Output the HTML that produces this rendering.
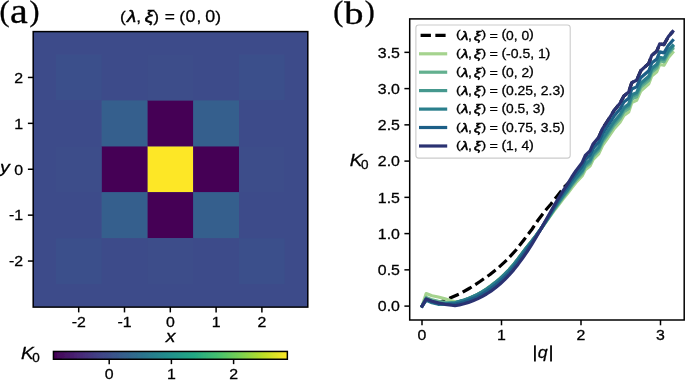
<!DOCTYPE html>
<html><head><meta charset="utf-8"><style>
html,body{margin:0;padding:0;background:#fff;}
svg{display:block;will-change:transform;}
text{font-family:"Liberation Sans",sans-serif;fill:#000;stroke:#000;stroke-width:0.28px;}
.it{font-style:italic;}
.bi,.bl{font-style:italic;stroke-width:0.58px;}
.pan{font-family:"Liberation Serif",serif;stroke-width:0.35px;}
</style></head><body>
<svg width="685" height="380" viewBox="0 0 685 380">
<filter id="soft" x="0" y="0" width="685" height="380" filterUnits="userSpaceOnUse"><feGaussianBlur stdDeviation="0.38"/></filter>
<rect width="685" height="380" fill="#fff"/>
<g filter="url(#soft)">
<rect width="685" height="380" fill="#fff"/>
<rect x="33.2" y="31.6" width="274.6" height="275.5" fill="#3e4c8a"/>
<rect x="147.40" y="146.30" width="45.80" height="45.90" fill="#fde725"/>
<rect x="193.20" y="146.30" width="45.80" height="45.90" fill="#440154"/>
<rect x="101.60" y="146.30" width="45.80" height="45.90" fill="#440154"/>
<rect x="147.40" y="100.40" width="45.80" height="45.90" fill="#440154"/>
<rect x="147.40" y="192.20" width="45.80" height="45.90" fill="#440154"/>
<rect x="193.20" y="100.40" width="45.80" height="45.90" fill="#355e8d"/>
<rect x="101.60" y="100.40" width="45.80" height="45.90" fill="#355e8d"/>
<rect x="193.20" y="192.20" width="45.80" height="45.90" fill="#355e8d"/>
<rect x="101.60" y="192.20" width="45.80" height="45.90" fill="#355e8d"/>
<rect x="239.00" y="54.50" width="45.80" height="45.90" fill="#3b4f8b"/>
<rect x="55.80" y="54.50" width="45.80" height="45.90" fill="#3b4f8b"/>
<rect x="239.00" y="238.10" width="45.80" height="45.90" fill="#3b4f8b"/>
<rect x="55.80" y="238.10" width="45.80" height="45.90" fill="#3b4f8b"/>
<rect x="147.40" y="54.50" width="45.80" height="45.90" fill="#3d4d8a"/>
<rect x="147.40" y="238.10" width="45.80" height="45.90" fill="#3d4d8a"/>
<rect x="239.00" y="146.30" width="45.80" height="45.90" fill="#3d4d8a"/>
<rect x="55.80" y="146.30" width="45.80" height="45.90" fill="#3d4d8a"/>
<rect x="33.2" y="31.6" width="274.60" height="275.50" fill="none" stroke="#000" stroke-width="1.5"/>
<line x1="78.70" y1="307.1" x2="78.70" y2="312.40000000000003" stroke="#000" stroke-width="1.5"/>
<line x1="33.2" y1="261.05" x2="27.900000000000002" y2="261.05" stroke="#000" stroke-width="1.5"/>
<text transform="translate(78.70,327.30) scale(1.127,1)" text-anchor="middle" font-size="14.1">-2</text>
<text transform="translate(23.20,266.35) scale(1.127,1)" text-anchor="end" font-size="14.1">-2</text>
<line x1="124.50" y1="307.1" x2="124.50" y2="312.40000000000003" stroke="#000" stroke-width="1.5"/>
<line x1="33.2" y1="215.15" x2="27.900000000000002" y2="215.15" stroke="#000" stroke-width="1.5"/>
<text transform="translate(124.50,327.30) scale(1.127,1)" text-anchor="middle" font-size="14.1">-1</text>
<text transform="translate(23.20,220.45) scale(1.127,1)" text-anchor="end" font-size="14.1">-1</text>
<line x1="170.30" y1="307.1" x2="170.30" y2="312.40000000000003" stroke="#000" stroke-width="1.5"/>
<line x1="33.2" y1="169.25" x2="27.900000000000002" y2="169.25" stroke="#000" stroke-width="1.5"/>
<text transform="translate(170.30,327.30) scale(1.127,1)" text-anchor="middle" font-size="14.1">0</text>
<text transform="translate(23.20,174.55) scale(1.127,1)" text-anchor="end" font-size="14.1">0</text>
<line x1="216.10" y1="307.1" x2="216.10" y2="312.40000000000003" stroke="#000" stroke-width="1.5"/>
<line x1="33.2" y1="123.35" x2="27.900000000000002" y2="123.35" stroke="#000" stroke-width="1.5"/>
<text transform="translate(216.10,327.30) scale(1.127,1)" text-anchor="middle" font-size="14.1">1</text>
<text transform="translate(23.20,128.65) scale(1.127,1)" text-anchor="end" font-size="14.1">1</text>
<line x1="261.90" y1="307.1" x2="261.90" y2="312.40000000000003" stroke="#000" stroke-width="1.5"/>
<line x1="33.2" y1="77.45" x2="27.900000000000002" y2="77.45" stroke="#000" stroke-width="1.5"/>
<text transform="translate(261.90,327.30) scale(1.127,1)" text-anchor="middle" font-size="14.1">2</text>
<text transform="translate(23.20,82.75) scale(1.127,1)" text-anchor="end" font-size="14.1">2</text>
<text transform="translate(170.60,341.50) scale(1.127,1)" text-anchor="middle" font-size="17.3" class="it">x</text>
<text transform="translate(5.00,172.60) scale(1.127,1)" text-anchor="middle" font-size="17.3" class="it">y</text>
<text transform="translate(122.85,21.80) scale(1.127,1)" text-anchor="middle" font-size="15.4">(</text>
<text transform="translate(131.60,22.30) scale(1.080,1)" text-anchor="middle" font-size="17.248" class="bl">λ</text>
<text transform="translate(138.70,22.30) scale(1.127,1)" text-anchor="middle" font-size="15.4">,</text>
<text transform="translate(149.10,22.30) scale(1.200,1)" text-anchor="middle" font-size="16.17" class="bi">ξ</text>
<text transform="translate(156.15,21.80) scale(1.127,1)" text-anchor="middle" font-size="15.4">)</text>
<text transform="translate(169.75,22.30) scale(1.127,1)" text-anchor="middle" font-size="15.4">=</text>
<text transform="translate(182.25,21.80) scale(1.127,1)" text-anchor="middle" font-size="15.4">(</text>
<text transform="translate(190.40,22.30) scale(1.050,1)" text-anchor="middle" font-size="17.0">0</text>
<text transform="translate(198.85,22.30) scale(1.127,1)" text-anchor="middle" font-size="15.4">,</text>
<text transform="translate(210.15,22.30) scale(1.050,1)" text-anchor="middle" font-size="17.0">0</text>
<text transform="translate(218.20,21.80) scale(1.127,1)" text-anchor="middle" font-size="15.4">)</text>
<text class="pan" x="-0.6" y="20.9" font-size="30">(</text><text class="pan" transform="translate(10.0,23.0) scale(1.11,1)" font-size="36">a</text><text class="pan" x="29.5" y="20.9" font-size="30">)</text>
<text class="pan" x="333.3" y="21.2" font-size="30">(</text><text class="pan" transform="translate(344.2,23.7) scale(1.22,1)" font-size="31.5">b</text><text class="pan" x="364.8" y="21.2" font-size="30">)</text>
<defs><linearGradient id="vir" x1="0" x2="1" y1="0" y2="0">
<stop offset="0.00" stop-color="#440154"/>
<stop offset="0.10" stop-color="#482475"/>
<stop offset="0.20" stop-color="#414487"/>
<stop offset="0.30" stop-color="#355f8d"/>
<stop offset="0.40" stop-color="#2a788e"/>
<stop offset="0.50" stop-color="#21918c"/>
<stop offset="0.60" stop-color="#22a884"/>
<stop offset="0.70" stop-color="#44bf70"/>
<stop offset="0.80" stop-color="#7ad151"/>
<stop offset="0.90" stop-color="#bddf26"/>
<stop offset="1.00" stop-color="#fde725"/>
</linearGradient></defs>
<rect x="53.45" y="351.45" width="233.90" height="7.80" fill="url(#vir)" stroke="#000" stroke-width="1.5"/>
<line x1="109.2" y1="359.25" x2="109.2" y2="364.15" stroke="#000" stroke-width="1.5"/>
<text transform="translate(109.20,379.00) scale(1.127,1)" text-anchor="middle" font-size="14.1">0</text>
<line x1="171.4" y1="359.25" x2="171.4" y2="364.15" stroke="#000" stroke-width="1.5"/>
<text transform="translate(171.40,379.00) scale(1.127,1)" text-anchor="middle" font-size="14.1">1</text>
<line x1="233.6" y1="359.25" x2="233.6" y2="364.15" stroke="#000" stroke-width="1.5"/>
<text transform="translate(233.60,379.00) scale(1.127,1)" text-anchor="middle" font-size="14.1">2</text>
<text transform="translate(27.50,359.20) scale(1.127,1)" text-anchor="middle" font-size="17.0" class="it">K</text>
<text transform="translate(36.00,361.90) scale(1.127,1)" text-anchor="middle" font-size="12.0">0</text>
<clipPath id="cp"><rect x="409.7" y="18.9" width="274.50" height="301.10"/></clipPath>
<g clip-path="url(#cp)" fill="none" stroke-linejoin="round" stroke-linecap="butt">
<polyline points="421.2,306.2 425.8,299.6 432.0,301.3 438.3,302.9 444.0,300.6 449.5,298.3 460.0,293.8 470.0,288.0 480.0,281.5 490.0,274.5 498.7,267.4 507.4,259.5 516.0,250.0 524.0,239.7 531.8,229.5 537.8,220.5 545.5,210.3 551.0,204.0 557.3,196.0 564.0,187.4 568.0,183.5 571.8,179.7 575.8,173.9 582.1,166.0 585.3,159.1 590.0,154.6 593.2,147.6 598.7,137.4 602.6,128.5 606.5,122.5 611.3,115.0 613.7,111.1 620.0,103.2 623.9,96.1 628.7,92.1 631.8,82.6 636.6,80.3 640.7,70.8 648.8,63.4 651.7,55.5 656.8,51.1 659.7,43.9 664.0,44.6 668.4,36.6 672.7,31.6" stroke="#000" stroke-width="3.2" stroke-dasharray="10.3 4.45" stroke-dashoffset="11.37"/>
<polyline points="422.1,306.0 426.2,293.6 432.0,295.7 438.3,297.0 445.0,298.8 451.5,300.7 455.0,301.8 459.5,301.6 464.0,300.2 468.5,298.5 473.0,296.6 477.5,294.4 482.0,291.8 486.5,288.8 491.0,285.6 495.5,282.1 500.0,278.3 504.5,274.1 509.0,269.5 513.5,264.4 518.0,258.7 522.5,252.6 527.0,246.7 531.5,241.3 536.0,235.5 540.5,229.4 545.0,223.3 549.5,217.1 554.0,210.9 558.5,205.0 563.0,199.1 567.5,193.6 571.8,187.7 575.8,182.7 582.1,176.0 585.3,169.8 590.0,166.1 593.2,159.4 598.7,153.8 602.6,145.3 606.5,139.8 611.3,132.9 613.7,129.3 620.0,122.1 623.9,115.5 628.7,112.0 631.8,102.6 636.6,100.4 640.7,91.0 648.8,83.8 651.7,76.0 656.8,71.7 659.7,64.5 664.0,65.3 668.4,57.4 672.7,52.5" stroke="#a5d38e" stroke-width="3.2" stroke-linecap="square"/>
<polyline points="422.1,306.1 426.2,297.4 432.0,299.9 438.3,301.4 445.0,302.4 451.5,302.6 455.0,302.6 459.5,301.6 464.0,300.3 468.5,298.7 473.0,296.8 477.5,294.7 482.0,292.1 486.5,289.3 491.0,286.2 495.5,282.7 500.0,278.9 504.5,274.7 509.0,270.1 513.5,265.0 518.0,259.3 522.5,253.2 527.0,247.3 531.5,241.7 536.0,235.7 540.5,229.5 545.0,223.0 549.5,216.5 554.0,209.9 558.5,203.7 563.0,197.5 567.5,191.8 571.8,185.6 575.8,180.5 582.1,173.5 585.3,167.0 590.0,163.2 593.2,156.5 598.7,150.7 602.6,142.2 606.5,136.6 611.3,129.6 613.7,125.9 620.0,118.6 623.9,111.9 628.7,108.4 631.8,99.0 636.6,96.8 640.7,87.4 648.8,80.2 651.7,72.3 656.8,68.1 659.7,60.9 664.0,61.7 668.4,53.8 672.7,48.9" stroke="#63b08f" stroke-width="3.2" stroke-linecap="square"/>
<polyline points="422.1,306.1 426.2,298.9 432.0,301.3 438.3,302.9 445.0,303.4 451.5,303.1 455.0,302.8 459.5,301.6 464.0,300.3 468.5,298.7 473.0,296.8 477.5,294.7 482.0,292.1 486.5,289.3 491.0,286.2 495.5,282.7 500.0,278.9 504.5,274.7 509.0,270.1 513.5,265.0 518.0,259.3 522.5,253.2 527.0,247.3 531.5,241.7 536.0,235.7 540.5,229.5 545.0,222.8 549.5,216.0 554.0,209.2 558.5,202.7 563.0,196.4 567.5,190.5 571.8,184.3 575.8,179.0 582.1,171.8 585.3,165.3 590.0,161.4 593.2,154.6 598.7,148.7 602.6,140.1 606.5,134.5 611.3,127.3 613.7,123.6 620.0,116.3 623.9,109.5 628.7,105.9 631.8,96.5 636.6,94.4 640.7,85.0 648.8,77.9 651.7,70.1 656.8,65.9 659.7,58.9 664.0,59.7 668.4,51.9 672.7,47.0" stroke="#45988e" stroke-width="3.2" stroke-linecap="square"/>
<polyline points="422.1,306.1 426.2,300.3 432.0,302.8 438.3,304.3 445.0,304.2 451.5,303.2 455.0,302.8 459.5,301.4 464.0,300.1 468.5,298.4 473.0,296.5 477.5,294.4 482.0,291.8 486.5,289.0 491.0,285.8 495.5,282.4 500.0,278.6 504.5,274.4 509.0,269.8 513.5,264.7 518.0,259.0 522.5,252.9 527.0,246.9 531.5,241.5 536.0,235.6 540.5,229.4 545.0,222.7 549.5,215.7 554.0,208.7 558.5,202.0 563.0,195.6 567.5,189.6 571.8,183.2 575.8,177.9 582.1,170.5 585.3,164.0 590.0,159.9 593.2,153.1 598.7,147.2 602.6,138.6 606.5,132.8 611.3,125.7 613.7,122.0 620.0,114.5 623.9,107.7 628.7,104.1 631.8,94.7 636.6,92.6 640.7,83.3 648.8,76.3 651.7,68.5 656.8,64.3 659.7,57.3 664.0,58.2 668.4,50.4 672.7,45.6" stroke="#2b7f8c" stroke-width="3.2" stroke-linecap="square"/>
<polyline points="422.1,306.1 426.2,299.6 432.0,302.0 438.3,303.6 445.0,304.1 451.5,304.0 455.0,304.0 459.5,303.1 464.0,301.9 468.5,300.3 473.0,298.6 477.5,296.6 482.0,294.2 486.5,291.4 491.0,288.4 495.5,285.0 500.0,281.2 504.5,277.0 509.0,272.4 513.5,267.3 518.0,261.5 522.5,255.4 527.0,249.2 531.5,243.0 536.0,236.4 540.5,229.6 545.0,222.2 549.5,214.7 554.0,207.3 558.5,200.1 563.0,193.2 567.5,186.8 571.8,180.0 575.8,174.4 582.1,166.4 585.3,159.6 590.0,155.2 593.2,148.2 598.7,142.2 602.6,133.5 606.5,127.7 611.3,120.4 613.7,116.6 620.0,109.0 623.9,102.0 628.7,98.3 631.8,89.0 636.6,86.9 640.7,77.7 648.8,70.8 651.7,63.1 656.8,59.0 659.7,51.9 664.0,52.9 668.4,45.2 672.7,40.4" stroke="#1f5f87" stroke-width="3.2" stroke-linecap="square"/>
<polyline points="422.1,306.1 426.2,298.9 432.0,301.3 438.3,302.9 445.0,304.3 451.5,305.2 455.0,305.6 459.5,304.9 464.0,303.8 468.5,302.4 473.0,300.8 477.5,298.9 482.0,296.6 486.5,294.0 491.0,291.1 495.5,287.8 500.0,284.0 504.5,279.8 509.0,275.2 513.5,270.1 518.0,264.4 522.5,258.3 527.0,251.8 531.5,244.8 536.0,237.4 540.5,229.7 545.0,221.8 549.5,213.8 554.0,205.8 558.5,198.1 563.0,190.8 567.5,184.1 571.8,177.0 575.8,171.0 582.1,162.6 585.3,155.5 590.0,150.8 593.2,143.7 598.7,137.4 602.6,128.5 606.5,122.5 611.3,115.0 613.7,111.1 620.0,103.2 623.9,96.1 628.7,92.1 631.8,82.6 636.6,80.3 640.7,70.8 648.8,63.4 651.7,55.5 656.8,51.1 659.7,43.9 664.0,44.6 668.4,36.6 672.7,31.6" stroke="#2c3172" stroke-width="3.2" stroke-linecap="square"/>
</g>
<rect x="409.7" y="18.9" width="274.50" height="301.10" fill="none" stroke="#000" stroke-width="1.5"/>
<line x1="422.00" y1="320.0" x2="422.00" y2="325.3" stroke="#000" stroke-width="1.5"/>
<text transform="translate(422.00,340.30) scale(1.127,1)" text-anchor="middle" font-size="14.1">0</text>
<line x1="501.50" y1="320.0" x2="501.50" y2="325.3" stroke="#000" stroke-width="1.5"/>
<text transform="translate(501.50,340.30) scale(1.127,1)" text-anchor="middle" font-size="14.1">1</text>
<line x1="581.00" y1="320.0" x2="581.00" y2="325.3" stroke="#000" stroke-width="1.5"/>
<text transform="translate(581.00,340.30) scale(1.127,1)" text-anchor="middle" font-size="14.1">2</text>
<line x1="660.50" y1="320.0" x2="660.50" y2="325.3" stroke="#000" stroke-width="1.5"/>
<text transform="translate(660.50,340.30) scale(1.127,1)" text-anchor="middle" font-size="14.1">3</text>
<line x1="409.7" y1="306.10" x2="404.4" y2="306.10" stroke="#000" stroke-width="1.5"/>
<text transform="translate(399.90,311.40) scale(1.127,1)" text-anchor="end" font-size="14.1">0.0</text>
<line x1="409.7" y1="269.85" x2="404.4" y2="269.85" stroke="#000" stroke-width="1.5"/>
<text transform="translate(399.90,275.15) scale(1.127,1)" text-anchor="end" font-size="14.1">0.5</text>
<line x1="409.7" y1="233.60" x2="404.4" y2="233.60" stroke="#000" stroke-width="1.5"/>
<text transform="translate(399.90,238.90) scale(1.127,1)" text-anchor="end" font-size="14.1">1.0</text>
<line x1="409.7" y1="197.35" x2="404.4" y2="197.35" stroke="#000" stroke-width="1.5"/>
<text transform="translate(399.90,202.65) scale(1.127,1)" text-anchor="end" font-size="14.1">1.5</text>
<line x1="409.7" y1="161.10" x2="404.4" y2="161.10" stroke="#000" stroke-width="1.5"/>
<text transform="translate(399.90,166.40) scale(1.127,1)" text-anchor="end" font-size="14.1">2.0</text>
<line x1="409.7" y1="124.85" x2="404.4" y2="124.85" stroke="#000" stroke-width="1.5"/>
<text transform="translate(399.90,130.15) scale(1.127,1)" text-anchor="end" font-size="14.1">2.5</text>
<line x1="409.7" y1="88.60" x2="404.4" y2="88.60" stroke="#000" stroke-width="1.5"/>
<text transform="translate(399.90,93.90) scale(1.127,1)" text-anchor="end" font-size="14.1">3.0</text>
<line x1="409.7" y1="52.35" x2="404.4" y2="52.35" stroke="#000" stroke-width="1.5"/>
<text transform="translate(399.90,57.65) scale(1.127,1)" text-anchor="end" font-size="14.1">3.5</text>
<rect x="534.05" y="345.3" width="1.75" height="16.2" fill="#000"/>
<text transform="translate(542.70,357.50) scale(1.030,1)" text-anchor="middle" font-size="17.3" class="it">q</text>
<rect x="550.15" y="345.3" width="1.75" height="16.2" fill="#000"/>
<text transform="translate(356.20,165.90) scale(1.127,1)" text-anchor="middle" font-size="17.0" class="it">K</text>
<text transform="translate(364.80,168.60) scale(1.127,1)" text-anchor="middle" font-size="12.0">0</text>
<rect x="415.9" y="25.0" width="154.30" height="133.10" rx="2.8" fill="#fff" fill-opacity="0.8" stroke="#ccc" stroke-width="1.1"/>
<line x1="420.6" y1="35.3" x2="445.6" y2="35.3" stroke="#000" stroke-width="3.2" stroke-linecap="butt" stroke-dasharray="10.3 4.45"/>
<text transform="translate(458.30,38.30) scale(1.200,1)" text-anchor="middle" font-size="11.700000000000001">(</text>
<text transform="translate(464.80,39.60) scale(1.080,1)" text-anchor="middle" font-size="13.284000000000002" class="bl">λ</text>
<text transform="translate(470.00,39.60) scale(1.164,1)" text-anchor="middle" font-size="12.3">,</text>
<text transform="translate(477.40,39.60) scale(1.220,1)" text-anchor="middle" font-size="12.792000000000002" class="bi">ξ</text>
<text transform="translate(483.80,38.30) scale(1.200,1)" text-anchor="middle" font-size="11.700000000000001">)</text>
<text transform="translate(493.70,39.60) scale(1.164,1)" text-anchor="middle" font-size="12.3">=</text>
<text transform="translate(503.90,38.30) scale(1.200,1)" text-anchor="middle" font-size="12.0">(</text>
<text x="506.00" y="39.60" font-size="12.9" textLength="23.10" lengthAdjust="spacingAndGlyphs">0, 0</text>
<text transform="translate(531.30,38.30) scale(1.200,1)" text-anchor="middle" font-size="12.0">)</text>
<line x1="420.6" y1="53.8" x2="445.6" y2="53.8" stroke="#a5d38e" stroke-width="3.2" stroke-linecap="square"/>
<text transform="translate(458.30,56.75) scale(1.200,1)" text-anchor="middle" font-size="11.700000000000001">(</text>
<text transform="translate(464.80,58.05) scale(1.080,1)" text-anchor="middle" font-size="13.284000000000002" class="bl">λ</text>
<text transform="translate(470.00,58.05) scale(1.164,1)" text-anchor="middle" font-size="12.3">,</text>
<text transform="translate(477.40,58.05) scale(1.220,1)" text-anchor="middle" font-size="12.792000000000002" class="bi">ξ</text>
<text transform="translate(483.80,56.75) scale(1.200,1)" text-anchor="middle" font-size="11.700000000000001">)</text>
<text transform="translate(493.70,58.05) scale(1.164,1)" text-anchor="middle" font-size="12.3">=</text>
<text transform="translate(503.90,56.75) scale(1.200,1)" text-anchor="middle" font-size="12.0">(</text>
<text x="506.00" y="58.05" font-size="12.9" textLength="39.80" lengthAdjust="spacingAndGlyphs">-0.5, 1</text>
<text transform="translate(548.00,56.75) scale(1.200,1)" text-anchor="middle" font-size="12.0">)</text>
<line x1="420.6" y1="72.2" x2="445.6" y2="72.2" stroke="#63b08f" stroke-width="3.2" stroke-linecap="square"/>
<text transform="translate(458.30,75.20) scale(1.200,1)" text-anchor="middle" font-size="11.700000000000001">(</text>
<text transform="translate(464.80,76.50) scale(1.080,1)" text-anchor="middle" font-size="13.284000000000002" class="bl">λ</text>
<text transform="translate(470.00,76.50) scale(1.164,1)" text-anchor="middle" font-size="12.3">,</text>
<text transform="translate(477.40,76.50) scale(1.220,1)" text-anchor="middle" font-size="12.792000000000002" class="bi">ξ</text>
<text transform="translate(483.80,75.20) scale(1.200,1)" text-anchor="middle" font-size="11.700000000000001">)</text>
<text transform="translate(493.70,76.50) scale(1.164,1)" text-anchor="middle" font-size="12.3">=</text>
<text transform="translate(503.90,75.20) scale(1.200,1)" text-anchor="middle" font-size="12.0">(</text>
<text x="506.00" y="76.50" font-size="12.9" textLength="23.10" lengthAdjust="spacingAndGlyphs">0, 2</text>
<text transform="translate(531.30,75.20) scale(1.200,1)" text-anchor="middle" font-size="12.0">)</text>
<line x1="420.6" y1="90.6" x2="445.6" y2="90.6" stroke="#45988e" stroke-width="3.2" stroke-linecap="square"/>
<text transform="translate(458.30,93.65) scale(1.200,1)" text-anchor="middle" font-size="11.700000000000001">(</text>
<text transform="translate(464.80,94.95) scale(1.080,1)" text-anchor="middle" font-size="13.284000000000002" class="bl">λ</text>
<text transform="translate(470.00,94.95) scale(1.164,1)" text-anchor="middle" font-size="12.3">,</text>
<text transform="translate(477.40,94.95) scale(1.220,1)" text-anchor="middle" font-size="12.792000000000002" class="bi">ξ</text>
<text transform="translate(483.80,93.65) scale(1.200,1)" text-anchor="middle" font-size="11.700000000000001">)</text>
<text transform="translate(493.70,94.95) scale(1.164,1)" text-anchor="middle" font-size="12.3">=</text>
<text transform="translate(503.90,93.65) scale(1.200,1)" text-anchor="middle" font-size="12.0">(</text>
<text x="506.00" y="94.95" font-size="12.9" textLength="54.20" lengthAdjust="spacingAndGlyphs">0.25, 2.3</text>
<text transform="translate(562.40,93.65) scale(1.200,1)" text-anchor="middle" font-size="12.0">)</text>
<line x1="420.6" y1="109.1" x2="445.6" y2="109.1" stroke="#2b7f8c" stroke-width="3.2" stroke-linecap="square"/>
<text transform="translate(458.30,112.10) scale(1.200,1)" text-anchor="middle" font-size="11.700000000000001">(</text>
<text transform="translate(464.80,113.40) scale(1.080,1)" text-anchor="middle" font-size="13.284000000000002" class="bl">λ</text>
<text transform="translate(470.00,113.40) scale(1.164,1)" text-anchor="middle" font-size="12.3">,</text>
<text transform="translate(477.40,113.40) scale(1.220,1)" text-anchor="middle" font-size="12.792000000000002" class="bi">ξ</text>
<text transform="translate(483.80,112.10) scale(1.200,1)" text-anchor="middle" font-size="11.700000000000001">)</text>
<text transform="translate(493.70,113.40) scale(1.164,1)" text-anchor="middle" font-size="12.3">=</text>
<text transform="translate(503.90,112.10) scale(1.200,1)" text-anchor="middle" font-size="12.0">(</text>
<text x="506.00" y="113.40" font-size="12.9" textLength="34.50" lengthAdjust="spacingAndGlyphs">0.5, 3</text>
<text transform="translate(542.70,112.10) scale(1.200,1)" text-anchor="middle" font-size="12.0">)</text>
<line x1="420.6" y1="127.5" x2="445.6" y2="127.5" stroke="#1f5f87" stroke-width="3.2" stroke-linecap="square"/>
<text transform="translate(458.30,130.55) scale(1.200,1)" text-anchor="middle" font-size="11.700000000000001">(</text>
<text transform="translate(464.80,131.85) scale(1.080,1)" text-anchor="middle" font-size="13.284000000000002" class="bl">λ</text>
<text transform="translate(470.00,131.85) scale(1.164,1)" text-anchor="middle" font-size="12.3">,</text>
<text transform="translate(477.40,131.85) scale(1.220,1)" text-anchor="middle" font-size="12.792000000000002" class="bi">ξ</text>
<text transform="translate(483.80,130.55) scale(1.200,1)" text-anchor="middle" font-size="11.700000000000001">)</text>
<text transform="translate(493.70,131.85) scale(1.164,1)" text-anchor="middle" font-size="12.3">=</text>
<text transform="translate(503.90,130.55) scale(1.200,1)" text-anchor="middle" font-size="12.0">(</text>
<text x="506.00" y="131.85" font-size="12.9" textLength="54.20" lengthAdjust="spacingAndGlyphs">0.75, 3.5</text>
<text transform="translate(562.40,130.55) scale(1.200,1)" text-anchor="middle" font-size="12.0">)</text>
<line x1="420.6" y1="146.0" x2="445.6" y2="146.0" stroke="#2c3172" stroke-width="3.2" stroke-linecap="square"/>
<text transform="translate(458.30,149.00) scale(1.200,1)" text-anchor="middle" font-size="11.700000000000001">(</text>
<text transform="translate(464.80,150.30) scale(1.080,1)" text-anchor="middle" font-size="13.284000000000002" class="bl">λ</text>
<text transform="translate(470.00,150.30) scale(1.164,1)" text-anchor="middle" font-size="12.3">,</text>
<text transform="translate(477.40,150.30) scale(1.220,1)" text-anchor="middle" font-size="12.792000000000002" class="bi">ξ</text>
<text transform="translate(483.80,149.00) scale(1.200,1)" text-anchor="middle" font-size="11.700000000000001">)</text>
<text transform="translate(493.70,150.30) scale(1.164,1)" text-anchor="middle" font-size="12.3">=</text>
<text transform="translate(503.90,149.00) scale(1.200,1)" text-anchor="middle" font-size="12.0">(</text>
<text x="506.00" y="150.30" font-size="12.9" textLength="23.10" lengthAdjust="spacingAndGlyphs">1, 4</text>
<text transform="translate(531.30,149.00) scale(1.200,1)" text-anchor="middle" font-size="12.0">)</text>
</g>
</svg>
</body></html>
